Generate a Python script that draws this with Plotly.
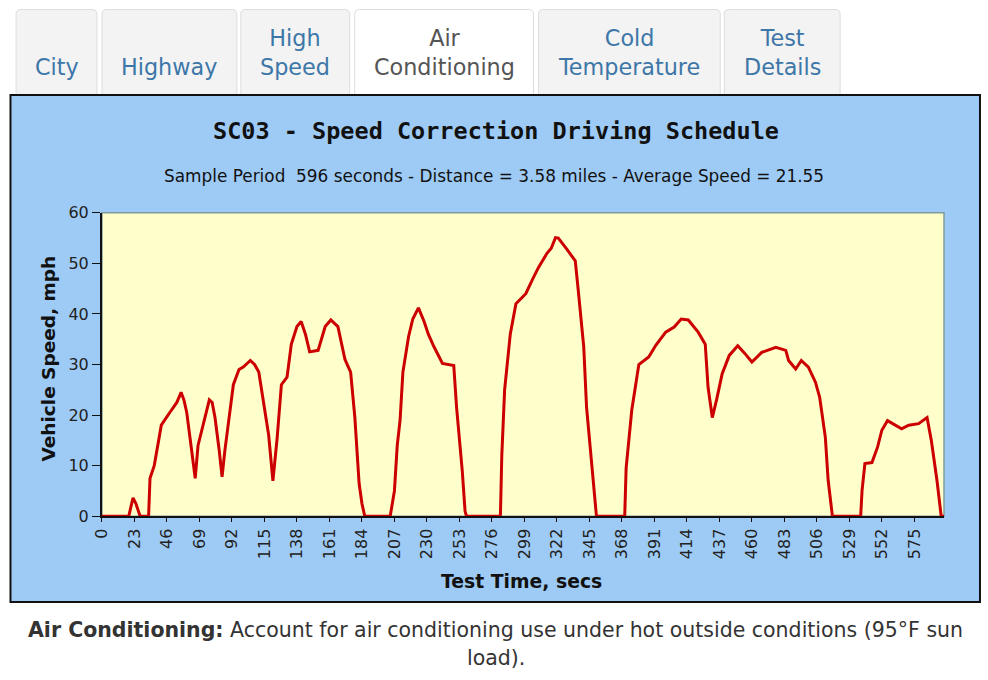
import plotly.graph_objects as go

# ---- data ----
time_s = [0, 19, 21, 22, 24, 27, 33, 34, 37, 39, 42, 48, 53, 56, 58, 60, 64, 66, 68, 72, 76, 78, 80, 83, 85, 87,
          91, 93, 97, 100, 105, 108, 111, 114, 118, 121, 124, 127, 131, 134, 138, 141, 144, 147, 153, 158, 162,
          167, 172, 176, 179, 182, 184, 186, 204, 207, 209, 211, 213, 217, 220, 224, 228, 231, 235, 241, 249,
          251, 255, 257, 258, 282, 283, 285, 289, 293, 300, 305, 309, 315, 318, 321, 323, 329, 335, 337, 341,
          343, 347, 350, 370, 371, 375, 380, 387, 392, 399, 405, 410, 415, 422, 427, 429, 432, 435, 439, 444,
          450, 455, 460, 467, 477, 484, 486, 491, 495, 500, 505, 508, 512, 514, 517, 537, 538, 540, 545, 549,
          552, 556, 560, 566, 571, 578, 584, 587, 591, 594, 596]
speed_mph = [0, 0, 2.5, 3.6, 2.5, 0, 0, 7.5, 10, 13.5, 18, 20.5, 22.5, 24.5, 23, 20.5, 12, 7.5, 14, 18.5, 23,
             22.5, 19.5, 13, 7.8, 13, 22, 26, 29, 29.5, 30.8, 30, 28.5, 23.5, 16, 7, 15.5, 26, 27.5, 34, 37.5,
             38.5, 36, 32.5, 32.8, 37.5, 38.8, 37.5, 31, 28.5, 19.5, 6.5, 2.5, 0, 0, 5, 14, 19, 28.5, 35.5, 39,
             41.2, 38.5, 36, 33.5, 30.2, 29.8, 21.5, 9, 1, 0, 0, 12, 25, 36, 42, 44, 47, 49.2, 52, 53, 55.1, 55,
             52.8, 50.5, 45, 33.5, 21.5, 8.5, 0, 0, 9.5, 21, 30, 31.5, 33.8, 36.4, 37.4, 39, 38.8, 36.4, 34,
             25.5, 19.5, 23, 28.2, 31.8, 33.7, 32.2, 30.5, 32.4, 33.4, 32.8, 30.8, 29.1, 30.8, 29.5, 26.5, 23.5,
             15.6, 7.1, 0, 0, 5.1, 10.4, 10.6, 13.7, 17, 18.9, 18.3, 17.3, 18, 18.3, 19.5, 15, 7.1, 0, 0]
x_ticks = list(range(0, 596, 23))
y_ticks = [0, 10, 20, 30, 40, 50, 60]

tabs = [("City", 14, 95, False), ("Highway", 100, 235, False), ("High<br>Speed", 239, 348, False),
        ("Air<br>Conditioning", 353, 532, True), ("Cold<br>Temperature", 537, 719, False),
        ("Test<br>Details", 723, 839, False)]

title_text = "SC03 - Speed Correction Driving Schedule"
subtitle_text = "Sample Period  596 seconds - Distance = 3.58 miles - Average Speed = 21.55"
caption_1 = "<b>Air Conditioning:</b> Account for air conditioning use under hot outside conditions (95°F sun"
caption_2 = "load)."

# page placement compensation (page offset 8px, slight shrink in the photograph)
W, H = 988, 680
OFF, SX, SY = 8, 0.991, 0.974
def fx(x):
    return min(max(x / SX - OFF, 0.5), W - 0.5)
def fy(y):
    return min(max(y / SY - OFF, 0.5), H - 0.5)
def px(x):
    return fx(x) / W
def py(y):
    return 1 - fy(y) / H

fig = go.Figure()
fig.add_trace(go.Scatter(x=time_s, y=speed_mph, mode="lines",
                         line=dict(color="#cc0000", width=3), hoverinfo="x+y", showlegend=False))

shapes = []
annotations = []

# tabs
for label, x0, x1, active in tabs:
    y0, y1, r = 8, 93, 5
    path = (f"M {px(x0)},{py(y1)} L {px(x0)},{py(y0 + r)} Q {px(x0)},{py(y0)} {px(x0 + r)},{py(y0)} "
            f"L {px(x1 - r)},{py(y0)} Q {px(x1)},{py(y0)} {px(x1)},{py(y0 + r)} L {px(x1)},{py(y1)}")
    shapes.append(dict(type="path", xref="paper", yref="paper", path=path,
                       fillcolor="#ffffff" if active else "#f3f3f3",
                       line=dict(color="#dddddd", width=1), layer="below"))
    annotations.append(dict(x=px((x0 + x1) / 2), y=py(81), xref="paper", yref="paper",
                            text=label, showarrow=False, xanchor="center", yanchor="bottom",
                            font=dict(family="DejaVu Sans", size=22.3,
                                      color="#555555" if active else "#3d77a8")))

# chart frame
shapes.append(dict(type="rect", xref="paper", yref="paper", x0=px(6), x1=px(979), y0=py(602), y1=py(94),
                   fillcolor="#9ecbf6", line=dict(color="#111111", width=2), layer="below"))
# plot area
shapes.append(dict(type="rect", xref="x domain", yref="y domain", x0=0, x1=1, y0=0, y1=1,
                   fillcolor="#ffffcc", line=dict(color="#7f9c9c", width=1.5), layer="below"))

# titles
annotations.append(dict(x=px(494), y=py(130), xref="paper", yref="paper", text=f"<b>{title_text}</b>",
                        showarrow=False, xanchor="center", yanchor="middle",
                        font=dict(family="DejaVu Sans Mono", size=23.5, color="#111111")))
annotations.append(dict(x=px(492), y=py(175), xref="paper", yref="paper", text=subtitle_text,
                        showarrow=False, xanchor="center", yanchor="middle",
                        font=dict(family="DejaVu Sans", size=16.9, color="#111111")))
annotations.append(dict(x=px(494), y=py(630), xref="paper", yref="paper", text=caption_1,
                        showarrow=False, xanchor="center", yanchor="middle",
                        font=dict(family="DejaVu Sans", size=20.5, color="#333333")))
annotations.append(dict(x=px(494), y=py(658), xref="paper", yref="paper", text=caption_2,
                        showarrow=False, xanchor="center", yanchor="middle",
                        font=dict(family="DejaVu Sans", size=20.5, color="#333333")))
annotations.append(dict(x=px(520), y=py(581), xref="paper", yref="paper", text="<b>Test Time, secs</b>",
                        showarrow=False, xanchor="center", yanchor="middle",
                        font=dict(family="DejaVu Sans", size=18.8, color="#111111")))
annotations.append(dict(x=px(46), y=py(358), xref="paper", yref="paper", text="<b>Vehicle Speed, mph</b>",
                        showarrow=False, xanchor="center", yanchor="middle", textangle=-90,
                        font=dict(family="DejaVu Sans", size=18.5, color="#111111")))

fig.update_layout(
    width=W, height=H, margin=dict(l=0, r=0, t=0, b=0),
    paper_bgcolor="#ffffff", plot_bgcolor="rgba(0,0,0,0)",
    shapes=shapes, annotations=annotations, showlegend=False,
    xaxis=dict(domain=[px(100), px(943)], range=[0, 596], tickvals=x_ticks, ticktext=[str(v) for v in x_ticks],
               tickangle=-90, showgrid=False, zeroline=False, showline=True, linecolor="#111111", linewidth=2,
               ticks="outside", ticklen=4, tickcolor="#111111",
               tickfont=dict(family="DejaVu Sans", size=16, color="#222222")),
    yaxis=dict(domain=[py(516), py(212)], range=[0, 60], tickvals=y_ticks, showgrid=False, zeroline=False,
               showline=True, linecolor="#111111", linewidth=2, ticks="outside", ticklen=8,
               tickcolor="#111111", tickfont=dict(family="DejaVu Sans", size=16, color="#222222")),
)

fig.write_html("out.html")
